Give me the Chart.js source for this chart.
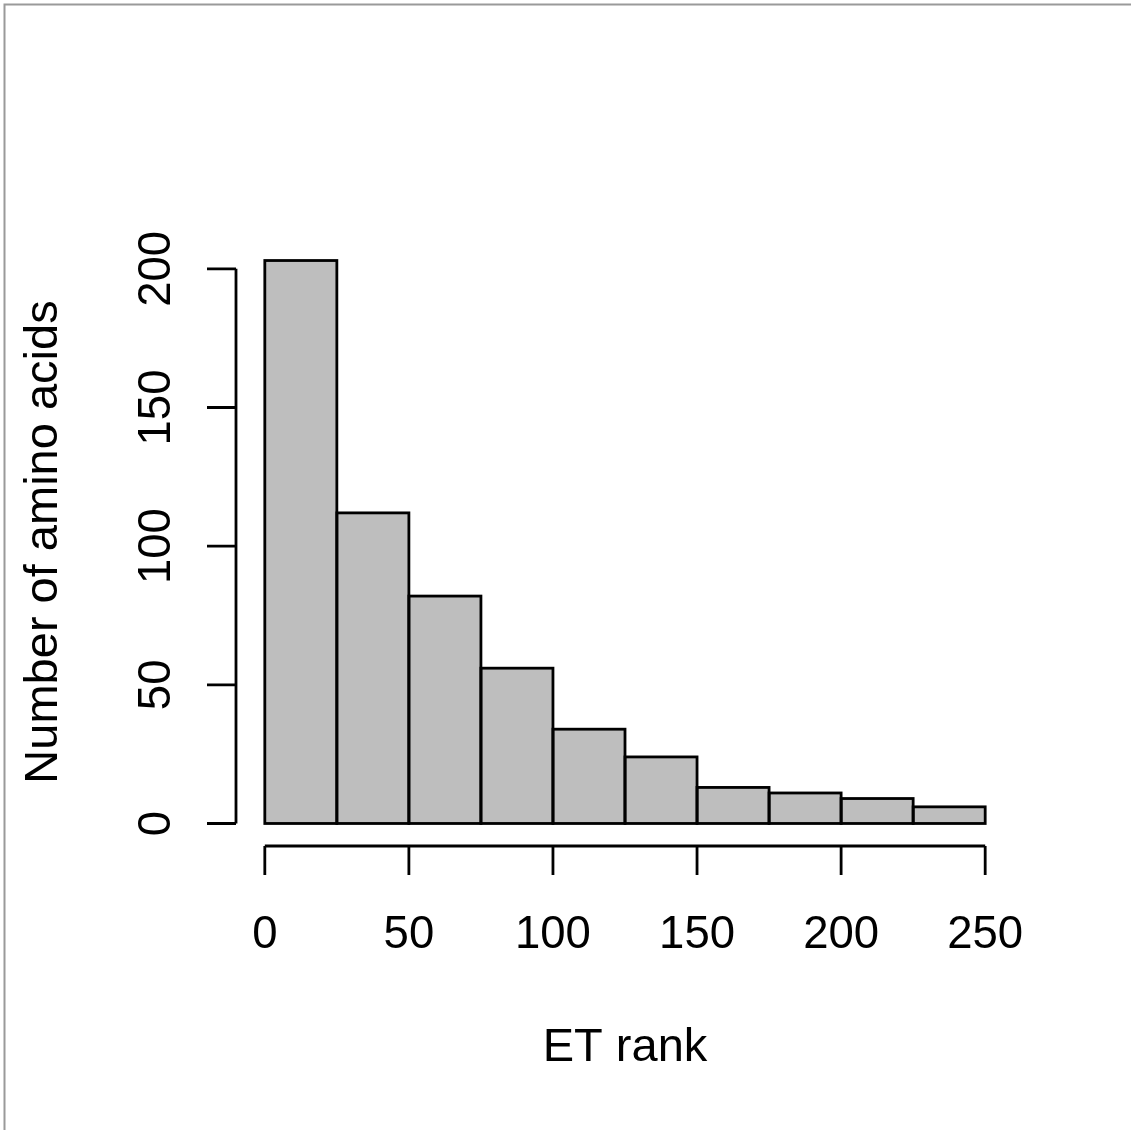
<!DOCTYPE html>
<html>
<head>
<meta charset="utf-8">
<script src="https://cdn.jsdelivr.net/npm/chart.js@4/dist/chart.umd.min.js"></script>
<style>
  html, body { margin: 0; padding: 0; background: #fff; }
  canvas { display: block; }
</style>
</head>
<body>
<canvas id="hist" width="1131" height="1130"></canvas>
<script>
// histogram of ET ranks
const binEdges = [0, 25, 50, 75, 100, 125, 150, 175, 200, 225, 250];
const counts = [203, 112, 82, 56, 34, 24, 13, 11, 9, 6];
const xTicks = [0, 50, 100, 150, 200, 250];
const yTicks = [0, 50, 100, 150, 200];
const xTitle = 'ET rank';
const yTitle = 'Number of amino acids';

const FAMILY = '"Liberation Sans", Arial, Helvetica, sans-serif';
const TICK_FONT = '45.5px ' + FAMILY;
const TITLE_FONT = '47px ' + FAMILY;
const TICK_LEN = 29;
const LINE_W = 2.8;

const bars = counts.map((c, i) => ({ x: (binEdges[i] + binEdges[i + 1]) / 2, y: c }));

// bar outlines centred on the edges, like R's rect()
const barOutlines = {
  id: 'barOutlines',
  afterDatasetsDraw (chart) {
    const ctx = chart.ctx;
    ctx.save();
    ctx.strokeStyle = '#000';
    ctx.lineWidth = LINE_W;
    chart.getDatasetMeta(0).data.forEach(bar => {
      const { x, y, base, width } = bar.getProps(['x', 'y', 'base', 'width'], true);
      ctx.strokeRect(x - width / 2, y, width, base - y);
    });
    ctx.restore();
  }
};

// R-style axes, drawn from the chart's own scales
const rAxes = {
  id: 'rAxes',
  afterDraw (chart) {
    const ctx = chart.ctx;
    const { x, y } = chart.scales;
    const area = chart.chartArea;

    ctx.save();
    ctx.strokeStyle = '#000';
    ctx.fillStyle = '#000';
    ctx.lineWidth = LINE_W;
    ctx.lineCap = 'butt';

    // x axis
    const xa = area.bottom;
    ctx.beginPath();
    ctx.moveTo(x.getPixelForValue(xTicks[0]), xa);
    ctx.lineTo(x.getPixelForValue(xTicks[xTicks.length - 1]), xa);
    xTicks.forEach(v => {
      const px = x.getPixelForValue(v);
      ctx.moveTo(px, xa);
      ctx.lineTo(px, xa + TICK_LEN);
    });
    ctx.stroke();

    ctx.textAlign = 'center';
    ctx.textBaseline = 'alphabetic';
    ctx.font = TICK_FONT;
    xTicks.forEach(v => {
      ctx.fillText(String(v), x.getPixelForValue(v), 948);
    });
    ctx.font = TITLE_FONT;
    ctx.fillText(xTitle, (area.left + area.right) / 2, 1061);

    // y axis
    const ya = area.left;
    ctx.beginPath();
    ctx.moveTo(ya, y.getPixelForValue(yTicks[0]));
    ctx.lineTo(ya, y.getPixelForValue(yTicks[yTicks.length - 1]));
    yTicks.forEach(v => {
      const py = y.getPixelForValue(v);
      ctx.moveTo(ya, py);
      ctx.lineTo(ya - TICK_LEN, py);
    });
    ctx.stroke();

    ctx.font = TICK_FONT;
    yTicks.forEach(v => {
      ctx.save();
      ctx.translate(170, y.getPixelForValue(v));
      ctx.rotate(-Math.PI / 2);
      ctx.fillText(String(v), 0, 0);
      ctx.restore();
    });

    ctx.font = TITLE_FONT;
    ctx.save();
    ctx.translate(57, (area.top + area.bottom) / 2);
    ctx.rotate(-Math.PI / 2);
    ctx.fillText(yTitle, 0, 0);
    ctx.restore();

    // figure frame
    ctx.strokeStyle = '#9a9a9a';
    ctx.lineWidth = 2;
    ctx.beginPath();
    ctx.moveTo(4.5, chart.height + 5);
    ctx.lineTo(4.5, 4.5);
    ctx.lineTo(chart.width + 5, 4.5);
    ctx.stroke();

    ctx.restore();
  }
};

new Chart(document.getElementById('hist'), {
  type: 'bar',
  data: {
    datasets: [{
      data: bars,
      backgroundColor: '#bebebe',
      borderWidth: 0,
      barPercentage: 1,
      categoryPercentage: 1
    }]
  },
  options: {
    responsive: false,
    animation: false,
    layout: { padding: { left: 236, right: 117, top: 238, bottom: 284 } },
    plugins: { legend: { display: false }, tooltip: { enabled: false } },
    scales: {
      x: { type: 'linear', min: -10, max: 260, offset: false, display: false },
      y: { min: -8.12, max: 211.12, display: false }
    }
  },
  plugins: [barOutlines, rAxes]
});
</script>
</body>
</html>
